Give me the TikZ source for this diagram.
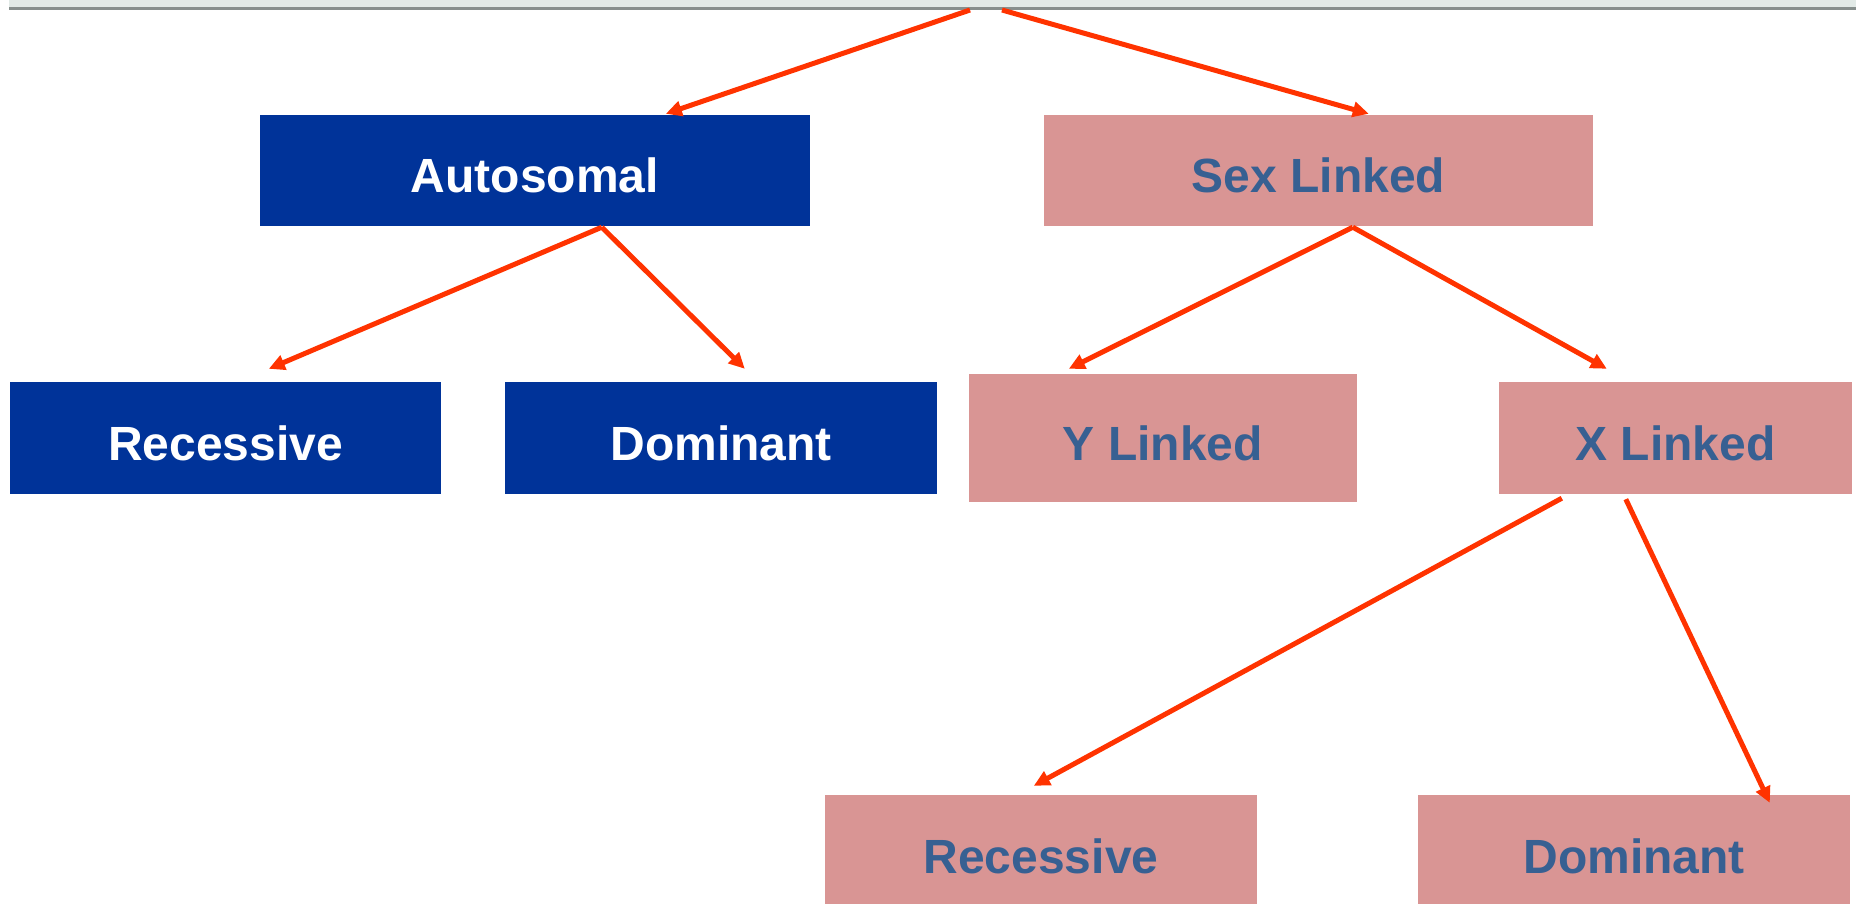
\documentclass[tikz,border=0pt]{standalone}
\usepackage{fontspec}
\setmainfont{Liberation Sans}
\usetikzlibrary{arrows.meta,calc}
\definecolor{boxblue}{RGB}{0,51,153}
\definecolor{boxpink}{RGB}{217,149,148}
\definecolor{txtblue}{RGB}{55,96,146}
\definecolor{arrred}{RGB}{255,51,0}
\definecolor{barlight}{RGB}{226,234,231}
\definecolor{bardark}{RGB}{135,143,141}
\begin{document}
\begin{tikzpicture}[x=1pt,y=-1pt,
  bluebox/.style={rectangle,fill=boxblue,text=white,inner sep=0pt,
    text height=44pt,text depth=0pt,
    font=\fontsize{48}{58}\selectfont\bfseries},
  pinkbox/.style={rectangle,fill=boxpink,text=txtblue,inner sep=0pt,
    text height=44pt,text depth=0pt,
    font=\fontsize{48}{58}\selectfont\bfseries},
  arr/.style={draw=arrred,line width=5pt,-{Triangle[length=16pt,width=15pt]}}]
\useasboundingbox (0,0) rectangle (1856,903);
% top bar
\node[rectangle,fill=barlight,inner sep=0pt,minimum width=1850pt,minimum height=10pt,anchor=south west] (bar) at (9,10) {};
\draw[bardark,line width=3pt] (9,8) -- (1856,8);
% nodes
\node[bluebox,minimum width=550pt,minimum height=111pt] (auto) at (535,170.5) {Autosomal};
\node[pinkbox,minimum width=549pt,minimum height=111pt] (sex) at (1318.5,170.5) {Sex Linked};
\node[bluebox,minimum width=431pt,minimum height=112pt] (arec) at (225.5,438) {Recessive};
\node[bluebox,minimum width=432pt,minimum height=112pt] (adom) at (721,438) {Dominant};
\node[pinkbox,minimum width=388pt,minimum height=128pt] (ylink) at (1163,438) {Y Linked};
\node[pinkbox,minimum width=353pt,minimum height=112pt] (xlink) at (1675.5,438) {X Linked};
\node[pinkbox,minimum width=432pt,minimum height=112pt] (xrec) at (1041,851) {Recessive};
\node[pinkbox,minimum width=432pt,minimum height=112pt] (xdom) at (1634,851) {Dominant};
% connectors
\draw[arr] ([xshift=961pt]bar.south west) -- ([xshift=406pt,yshift=1pt]auto.north west);
\draw[arr] ([xshift=993pt]bar.south west) -- ([xshift=325pt,yshift=1pt]sex.north west);
\draw[arr] ([xshift=342pt,yshift=-1pt]auto.south west) -- ([xshift=259pt,yshift=13pt]arec.north west);
\draw[arr] ([xshift=342pt,yshift=-1pt]auto.south west) -- ([xshift=240pt,yshift=13pt]adom.north west);
\draw[arr] ([xshift=309pt,yshift=-1pt]sex.south west) -- ([xshift=100pt,yshift=5pt]ylink.north west);
\draw[arr] ([xshift=309pt,yshift=-1pt]sex.south west) -- ([xshift=108pt,yshift=13pt]xlink.north west);
\draw[arr] ([xshift=63pt,yshift=-4pt]xlink.south west) -- ([xshift=209pt,yshift=9pt]xrec.north west);
\draw[arr] ([xshift=127pt,yshift=-5pt]xlink.south west) -- ([xshift=352pt,yshift=-8pt]xdom.north west);
\end{tikzpicture}
\end{document}
